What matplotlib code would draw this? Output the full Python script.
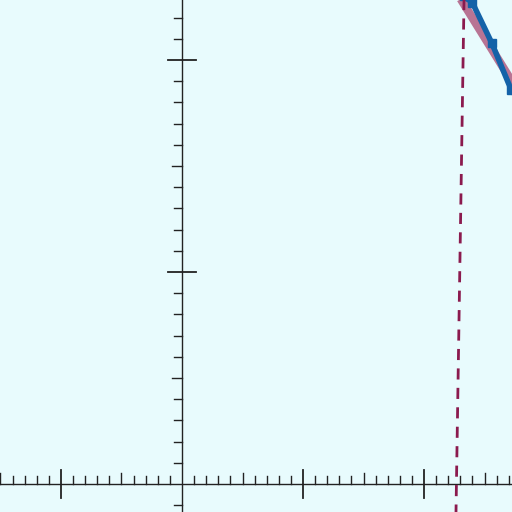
import matplotlib
matplotlib.use("Agg")
import matplotlib.pyplot as plt
import numpy as np

pink_x = [2.29, 2.80]
pink_y = [2.30, 1.83]
blue_x = [2.33, 2.40, 2.56, 2.72, 2.80]
blue_y = [2.30, 2.27, 2.08, 1.86, 1.80]
dash_x = [2.331, 2.264]
dash_y = [2.30, -0.14]

fig = plt.figure(figsize=(5.12, 5.12), dpi=100)
ax = fig.add_axes([0, 0, 1, 1])
bg = "#e8fbfd"
fig.patch.set_facecolor(bg)
ax.set_facecolor(bg)
ax.set_xlim(-1.504, 2.727)
ax.set_ylim(-0.132, 2.283)
for s in ax.spines.values():
    s.set_visible(False)
ax.set_xticks([]); ax.set_yticks([])
k = "#222222"
ax.axhline(0, color=k, lw=1)
ax.axvline(0, color=k, lw=1)
px = 1/121.0; py = 1/212.0
# x ticks
for i in range(-15, 28):
    x = i/10
    if i % 10 == 0:
        if i != 0:
            ax.plot([x, x], [-14*py, 14*py], color=k, lw=1.3)
    elif i % 5 == 0:
        ax.plot([x, x], [0, 11*py], color=k, lw=1)
    else:
        ax.plot([x, x], [0, 8*py], color=k, lw=1)
# y ticks
for j in range(-1, 23):
    y = j/10
    if j % 10 == 0:
        if j != 0:
            ax.plot([-14*px, 14*px], [y, y], color=k, lw=1.3)
    elif j % 5 == 0:
        ax.plot([-10*px, 0], [y, y], color=k, lw=1)
    else:
        ax.plot([-8*px, 0], [y, y], color=k, lw=1)
ax.plot(pink_x, pink_y, color="#b87494", lw=6, solid_capstyle="butt")
ax.plot(blue_x, blue_y, color="#1462a8", lw=4, marker="s", ms=6)
ax.plot(dash_x, dash_y, color="#8b1a4e", lw=2, ls=(0, (4, 3)))
fig.savefig("out.png", dpi=100, facecolor=bg)
